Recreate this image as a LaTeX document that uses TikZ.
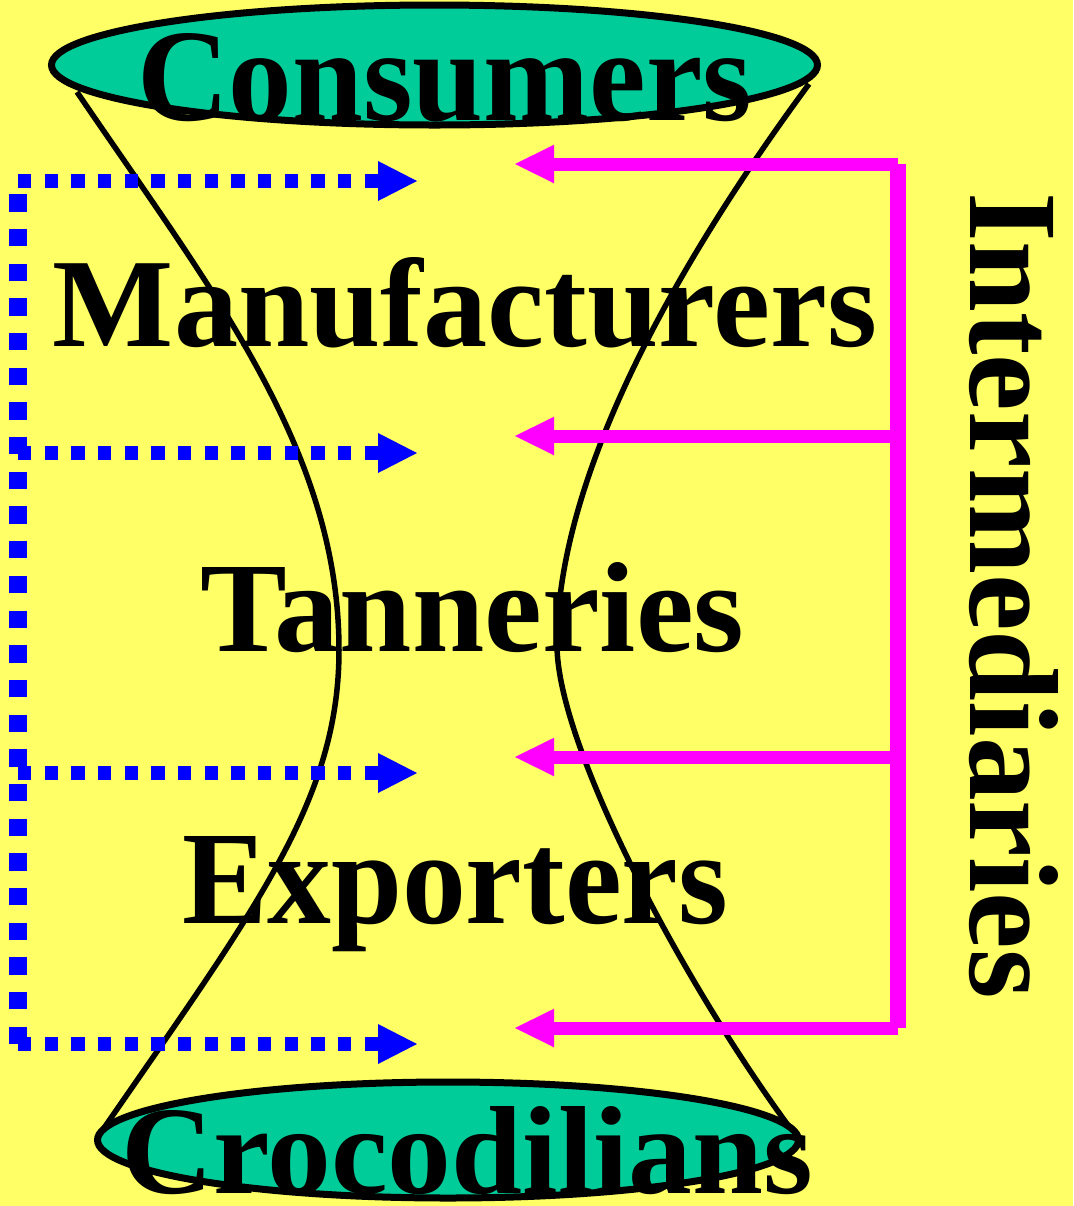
\documentclass[tikz,border=0pt]{standalone}
\usepackage{fontspec}
\setmainfont{Liberation Serif}
\usetikzlibrary{arrows.meta,shapes.geometric}
\newlength\pxu
\setlength\pxu{0.5pt}
\definecolor{bgyellow}{HTML}{FFFF66}
\definecolor{discteal}{HTML}{00CC99}
\definecolor{arrowpink}{HTML}{FF00FF}
\definecolor{arrowblue}{HTML}{0000FF}
\begin{document}
\begin{tikzpicture}[x=\pxu,y=-\pxu,
  hour/.style={line width=5.5\pxu, draw=black},
  disc/.style={ellipse, fill=discteal, draw=black, line width=7\pxu, inner sep=0pt},
  lbl/.style={inner sep=0pt, outer sep=0pt, anchor=base west, font=\bfseries},
  bluearrow/.style={draw=arrowblue, line width=13.3\pxu, dash pattern=on 13.33\pxu off 13.33\pxu,
    -{Triangle[length=19.5pt,width=20pt,line width=0pt]}},
  bluev/.style={draw=arrowblue, line width=17.3\pxu, dash pattern=on 17.34\pxu off 17.34\pxu},
  pinkarrow/.style={draw=arrowpink, line width=13\pxu,
    -{Triangle[length=19.5pt,width=19.25pt,line width=0pt]}},
  pinkv/.style={draw=arrowpink, line width=16.7\pxu},
]
\useasboundingbox (0,0) rectangle (1073,1206);
\fill[bgyellow] (0,0) rectangle (1073,1206);

% hourglass
\coordinate (lt) at (77,92);
\coordinate (lm) at (339,650);
\coordinate (lb) at (104,1128);
\coordinate (rt) at (809,84);
\coordinate (rm) at (557,645);
\coordinate (rb) at (793,1132);
\draw[hour] (lt) .. controls (213,292) and (339,450) .. (lm)
                 .. controls (339,800) and (256,908) .. (lb);
\draw[hour] (rt) .. controls (691,244) and (557,465) .. (rm)
                 .. controls (557,745) and (682,982) .. (rb);

% blue dotted arrows
\coordinate (b1) at (18,181);
\coordinate (b2) at (18,453);
\coordinate (b3) at (18,773);
\coordinate (b4) at (18,1044);
\coordinate (b1t) at (417,181);
\coordinate (b2t) at (417,453);
\coordinate (b3t) at (417,773);
\coordinate (b4t) at (417,1044);
\draw[bluev] (b4) -- (b1);
\draw[bluearrow] (b1) -- (b1t);
\draw[bluearrow] (b2) -- (b2t);
\draw[bluearrow] (b3) -- (b3t);
\draw[bluearrow] (b4) -- (b4t);

% magenta arrows
\coordinate (p1) at (898,164);
\coordinate (p2) at (898,436);
\coordinate (p3) at (898,757);
\coordinate (p4) at (898,1028);
\coordinate (p1t) at (515,164);
\coordinate (p2t) at (515,436);
\coordinate (p3t) at (515,757);
\coordinate (p4t) at (515,1028);
\draw[pinkv] (p1) -- (p4);
\draw[pinkarrow] (p1) -- (p1t);
\draw[pinkarrow] (p2) -- (p2t);
\draw[pinkarrow] (p3) -- (p3t);
\draw[pinkarrow] (p4) -- (p4t);

% discs
\node[disc, minimum width=766\pxu, minimum height=120\pxu] (topdisc) at (434.5,65) {};
\node[disc, minimum width=701\pxu, minimum height=116\pxu] (botdisc) at (448,1140) {};

% labels
\node[lbl] (consumers) at (137,120) {\resizebox{615\pxu}{87\pxu}{Consumers}};
\node[lbl] (manuf) at (53,346) {\resizebox{824\pxu}{89\pxu}{Manufacturers}};
\node[lbl] (tann) at (200,651) {\resizebox{544\pxu}{89\pxu}{Tanneries}};
\node[lbl] (export) at (182,923) {\resizebox{546\pxu}{87\pxu}{Exporters}};
\node[lbl] (croc) at (121,1193) {\resizebox{692\pxu}{87\pxu}{Crocodilians}};
\node[lbl, rotate=-90] (inter) at (970,192) {\resizebox{807\pxu}{88\pxu}{Intermediaries}};
\end{tikzpicture}
\end{document}
